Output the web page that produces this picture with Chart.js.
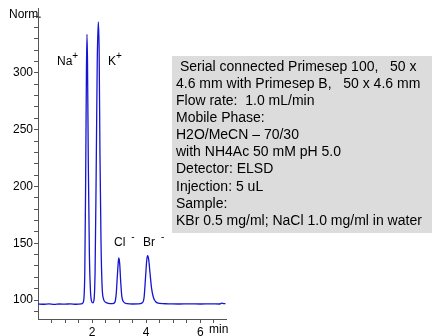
<!DOCTYPE html>
<html>
<head>
<meta charset="utf-8">
<script src="https://cdn.jsdelivr.net/npm/chart.js@4"></script>
<style>
  body { margin: 0; background: #fff; }
</style>
</head>
<body>
<canvas id="chrom" width="434" height="336"></canvas>
<script>
// retention time (min) and detector signal
const times = [0, 0.2, 0.4, 0.6, 0.8, 1.0, 1.2, 1.4, 1.6, 1.66, 1.70, 1.73, 1.76, 1.79, 1.81, 1.83, 1.86, 1.90, 1.94, 1.98,
  2.03, 2.07, 2.11, 2.15, 2.19, 2.23, 2.26, 2.29, 2.33, 2.37, 2.42, 2.5, 2.6, 2.75, 2.84, 2.89, 2.93, 2.97, 2.99, 3.02,
  3.06, 3.10, 3.16, 3.3, 3.5, 3.7, 3.85, 3.92, 3.97, 4.02, 4.05, 4.09, 4.14, 4.2, 4.27, 4.35, 4.5, 4.8, 5.2, 5.6,
  6.0, 6.4, 6.7, 6.8, 6.87, 6.93];
const signal = [96.6, 96.3, 96.6, 96.2, 96.5, 96.4, 96.6, 96.3, 96.6, 97.5, 102, 125, 200, 300, 334, 310, 220, 140, 108, 99,
  97.5, 100, 125, 210, 310, 345, 320, 230, 150, 112, 101, 98, 97, 96.8, 98, 105, 120, 134, 137, 132,
  115, 103, 98.5, 96.8, 96.5, 96.6, 97.5, 102, 118, 135, 139, 136, 124, 110, 102, 98.5, 97, 96.7, 96.5, 96.6,
  96.5, 96.6, 96.5, 97.3, 96.8, 96.9];

const xTicks = [0.5, 1, 1.5, 2, 2.5, 3, 3.5, 4, 4.5, 5, 5.5, 6, 6.5];
const xLabels = [2, 4, 6];
const yTicks = [90, 100, 110, 120, 130, 140, 150, 160, 170, 180, 190, 200, 210, 220, 230, 240, 250, 260, 270, 280, 290, 300, 310, 320, 330, 340, 350];
const yLabels = [100, 150, 200, 250, 300];

const peakNames = ['Na', 'K', 'Cl', 'Br'];
const peakCharges = ['+', '+', '-', '-'];

const infoLines = [
  ' Serial connected Primesep 100,   50 x',
  '4.6 mm with Primesep B,   50 x 4.6 mm',
  'Flow rate:  1.0 mL/min',
  'Mobile Phase:',
  'H2O/MeCN \u2013 70/30',
  'with NH4Ac 50 mM pH 5.0',
  'Detector: ELSD',
  'Injection: 5 uL',
  'Sample:',
  'KBr 0.5 mg/ml; NaCl 1.0 mg/ml in water'
];

const FONT = '"Liberation Sans", Arial, sans-serif';

const notes = {
  id: 'notes',
  afterDraw(chart) {
    const c = chart.ctx;
    c.save();
    c.fillStyle = '#000';
    c.textBaseline = 'middle';
    c.font = '12px ' + FONT;
    c.textAlign = 'left';
    c.fillText('Norm.', 9, 15);
    c.fillText('min', 209, 330);

    // peak labels
    const spots = [[57, 62], [108, 62], [114, 243], [143, 243]];
    spots.forEach((p, i) => {
      c.font = '12px ' + FONT;
      c.fillText(peakNames[i], p[0], p[1]);
      const w = c.measureText(peakNames[i]).width;
      c.font = '10px ' + FONT;
      const dx = peakCharges[i] === '-' ? 6 : 0;
      c.fillText(peakCharges[i], p[0] + w + dx, p[1] - 6);
    });

    // info box
    c.fillStyle = '#dcdcdc';
    c.fillRect(172, 56, 260, 177);
    c.fillStyle = '#000';
    c.font = '14px ' + FONT;
    infoLines.forEach((t, i) => c.fillText(t, 176, 67 + i * 17.1));
    c.restore();
  }
};

new Chart(document.getElementById('chrom'), {
  type: 'line',
  data: {
    datasets: [{
      data: times.map((t, i) => ({ x: t, y: signal[i] })),
      borderColor: '#1414d2',
      borderWidth: 1.3,
      pointRadius: 0,
      cubicInterpolationMode: 'monotone',
      fill: false
    }]
  },
  options: {
    responsive: false,
    animation: false,
    layout: { padding: { top: 7, right: 208, bottom: 0, left: 0 } },
    plugins: { legend: { display: false }, tooltip: { enabled: false } },
    scales: {
      x: {
        type: 'linear',
        min: 0,
        max: 6.95,
        afterBuildTicks: (axis) => { axis.ticks = xTicks.map(v => ({ value: v })); },
        afterFit: (axis) => { axis.height = 17; },
        ticks: {
          autoSkip: false,
          maxRotation: 0,
          padding: 2,
          color: '#000',
          font: { family: FONT, size: 12 },
          callback: (v) => xLabels.includes(v) ? String(v) : ''
        },
        grid: { drawOnChartArea: false, drawTicks: true, tickLength: 4, color: '#555' },
        border: { color: '#555', width: 1 }
      },
      y: {
        min: 83.3,
        max: 357,
        afterBuildTicks: (axis) => { axis.ticks = yTicks.map(v => ({ value: v })); },
        afterFit: (axis) => { axis.width = 38; },
        ticks: {
          autoSkip: false,
          padding: 1,
          color: '#000',
          font: { family: FONT, size: 12 },
          callback: (v) => yLabels.includes(v) ? String(v) : ''
        },
        grid: { drawOnChartArea: false, drawTicks: true, tickLength: 4, color: '#555' },
        border: { color: '#555', width: 1 }
      }
    }
  },
  plugins: [notes]
});
</script>
</body>
</html>
